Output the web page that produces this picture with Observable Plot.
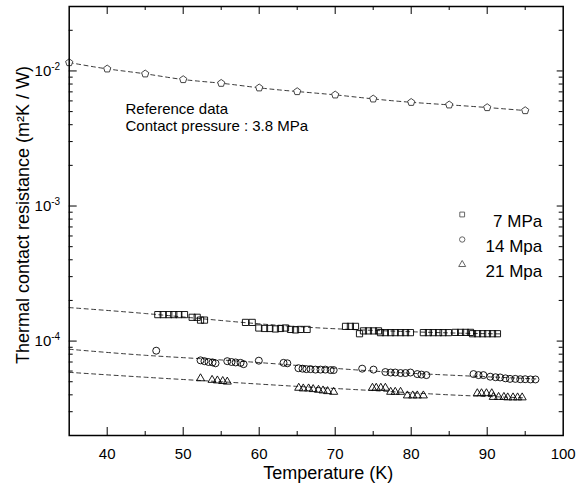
<!DOCTYPE html>
<html><head><meta charset="utf-8">
<script src="https://cdn.jsdelivr.net/npm/d3@7"></script>
<script src="https://cdn.jsdelivr.net/npm/@observablehq/plot@0.6"></script>
<style>body{margin:0;background:#fff} svg{display:block}</style>
</head><body><div id="chart"></div>
<script>
// Reference data (3.8 MPa)
const refT = [35,40,45,50,55,60,65,70,75,80,85,90,95];
const refR = [0.01154,0.01036,0.00952,0.00864,0.00811,0.00750,0.00704,0.00665,0.00621,0.00586,0.00561,0.00536,0.00509];

// 7 MPa
const t7 = [46.66,47.37,48.1,48.76,49.42,50.17,51.18,51.84,52.28,52.8,58.2,59.08,
  59.95,60.7,61.4,62.14,62.8,63.46,64.12,64.78,65.43,66.3,71.36,72.0,72.67,73.2,
  73.72,74.38,75.04,75.7,75.96,76.6,77.3,77.9,78.6,79.25,79.9,81.6,82.27,82.9,83.6,84.2,84.9,
  85.8,86.5,87.15,87.8,88.07,88.73,89.4,90.04,90.7,91.35];
const r7 = [1.57e-4,1.57e-4,1.57e-4,1.57e-4,1.57e-4,1.57e-4,1.50e-4,1.50e-4,1.43e-4,1.43e-4,1.375e-4,1.375e-4,
  1.25e-4,1.24e-4,1.24e-4,1.23e-4,1.24e-4,1.25e-4,1.22e-4,1.21e-4,1.22e-4,1.22e-4,1.285e-4,1.285e-4,1.285e-4,1.134e-4,
  1.19e-4,1.19e-4,1.19e-4,1.19e-4,1.155e-4,1.155e-4,1.155e-4,1.155e-4,1.155e-4,1.155e-4,1.155e-4,1.155e-4,1.155e-4,1.155e-4,1.155e-4,1.155e-4,1.155e-4,
  1.16e-4,1.16e-4,1.16e-4,1.16e-4,1.134e-4,1.134e-4,1.134e-4,1.134e-4,1.134e-4,1.134e-4];

// 14 MPa
const t14 = [46.45,52.28,52.8,53.33,53.86,54.25,55.8,56.36,56.9,57.55,57.95,59.95,63.2,63.7,
  65.16,65.7,66.2,66.75,67.4,68.07,68.7,69.4,69.8,73.55,75.04,76.6,77.3,77.9,78.6,79.25,79.9,
  80.8,81.35,82.0,88.2,88.86,89.5,90.4,91.1,91.7,92.4,93.0,93.7,94.35,95.0,95.7,96.35];
const r14 = [8.49e-5,7.2e-5,7.1e-5,7.0e-5,6.95e-5,6.85e-5,7.1e-5,7.0e-5,6.95e-5,6.9e-5,6.75e-5,7.16e-5,6.9e-5,6.85e-5,
  6.3e-5,6.25e-5,6.2e-5,6.2e-5,6.15e-5,6.15e-5,6.15e-5,6.1e-5,6.1e-5,6.25e-5,6.15e-5,5.9e-5,5.85e-5,5.85e-5,5.8e-5,5.8e-5,5.85e-5,
  5.7e-5,5.65e-5,5.6e-5,5.7e-5,5.6e-5,5.6e-5,5.45e-5,5.4e-5,5.38e-5,5.3e-5,5.25e-5,5.25e-5,5.22e-5,5.22e-5,5.2e-5,5.2e-5];

// 21 MPa
const t21 = [52.28,53.8,54.5,55.2,55.8,65.2,65.8,66.5,67.1,67.8,68.4,69.0,69.8,
  74.9,75.4,76.0,76.6,77.3,77.9,78.6,79.5,80.2,80.8,81.6,88.7,89.25,89.9,90.6,90.8,91.5,92.2,92.7,93.4,94.0,94.6];
const r21 = [5.29e-5,5.15e-5,5.1e-5,5.05e-5,5.0e-5,4.5e-5,4.45e-5,4.45e-5,4.4e-5,4.35e-5,4.3e-5,4.25e-5,4.2e-5,
  4.5e-5,4.5e-5,4.5e-5,4.5e-5,4.2e-5,4.2e-5,4.2e-5,3.95e-5,3.95e-5,3.95e-5,3.95e-5,4.1e-5,4.1e-5,4.1e-5,4.1e-5,3.85e-5,3.85e-5,3.85e-5,3.82e-5,3.82e-5,3.82e-5,3.82e-5];

// Fit curves (dashed)
const fitT7 = [35,45,55,65,75,85,92];
const fitR7 = [1.77e-4,1.6e-4,1.42e-4,1.28e-4,1.2e-4,1.15e-4,1.13e-4];
const fitT14 = [35,45,55,65,75,85,96.4];
const fitR14 = [8.7e-5,7.85e-5,7.25e-5,6.6e-5,6.0e-5,5.6e-5,5.25e-5];
const fitT21 = [35,45,55,65,75,85,95];
const fitR21 = [5.87e-5,5.4e-5,5.0e-5,4.62e-5,4.3e-5,4.0e-5,3.8e-5];

// Ticks
const xMajor = [40,50,60,70,80,90];
const xLabels = [40,50,60,70,80,90,100];
const xMinor = [45,55,65,75,85,95];
const yMajor = [1e-4,1e-3,1e-2];
const yMinor = [3e-5,4e-5,5e-5,6e-5,7e-5,8e-5,9e-5,2e-4,3e-4,4e-4,5e-4,6e-4,7e-4,8e-4,9e-4,
  2e-3,3e-3,4e-3,5e-3,6e-3,7e-3,8e-3,9e-3,2e-2];

// Legend
const legendLabels = ["7 MPa","14 Mpa","21 Mpa"];
const legendSymbols = ["square","circle","triangle"];

const zip = (a,b) => a.map((v,i)=>({x:v,y:b[i]}));

const pentagon = {
  draw(context, size) {
    const r = Math.sqrt(size / 2.378);
    for (let i = 0; i < 5; ++i) {
      const a = -Math.PI/2 + i * 2*Math.PI/5;
      const px = r*Math.cos(a), py = r*Math.sin(a);
      if (i === 0) context.moveTo(px, py); else context.lineTo(px, py);
    }
    context.closePath();
  }
};

const W = 584, H = 489, mT = 6, mR = 21.3, mB = 54, mL = 68.7;
const iW = W - mL - mR, iH = H - mT - mB;
const font = "'Liberation Sans', Arial, sans-serif";
const dash = "4,3.5";

const marks = [
  Plot.ruleX(xMajor, {x: d=>d, insetTop: iH-8, stroke:"black"}),
  Plot.ruleX(xMinor, {x: d=>d, insetTop: iH-4, stroke:"black"}),
  Plot.ruleX(xMajor, {x: d=>d, insetBottom: iH-8, stroke:"black"}),
  Plot.ruleX(xMinor, {x: d=>d, insetBottom: iH-4, stroke:"black"}),
  Plot.ruleY(yMajor, {y: d=>d, insetRight: iW-8, stroke:"black"}),
  Plot.ruleY(yMinor, {y: d=>d, insetRight: iW-4, stroke:"black"}),
  Plot.ruleY(yMajor, {y: d=>d, insetLeft: iW-6, stroke:"black"}),
  Plot.ruleY(yMinor, {y: d=>d, insetLeft: iW-4, stroke:"black"}),
  Plot.axisX(xLabels, {tickSize: 0, tickPadding: 13, fontSize: 15, tickFormat: d=>String(d), label: null}),
  Plot.axisY(yMajor, {tickSize: 0, tickPadding: 9, fontSize: 15, tickFormat: d=>"10^"+Math.round(Math.log10(d)), label: null}),
  Plot.line(zip(refT, refR), {x:"x", y:"y", stroke:"#222", strokeWidth:0.9, strokeDasharray: dash, curve:"natural"}),
  Plot.line(zip(fitT7, fitR7), {x:"x", y:"y", stroke:"#222", strokeWidth:0.9, strokeDasharray: dash, curve:"natural"}),
  Plot.line(zip(fitT14, fitR14), {x:"x", y:"y", stroke:"#222", strokeWidth:0.9, strokeDasharray: dash, curve:"natural"}),
  Plot.line(zip(fitT21, fitR21), {x:"x", y:"y", stroke:"#222", strokeWidth:0.9, strokeDasharray: dash, curve:"natural"}),
  Plot.dot(zip(refT, refR), {x:"x", y:"y", symbol: pentagon, r: 3.3, stroke:"#444", strokeWidth: 1, fill:"white"}),
  Plot.dot(zip(t7, r7), {x:"x", y:"y", symbol:"square", r: 3.5, stroke:"black", strokeWidth: 0.9, fill:"none"}),
  Plot.dot(zip(t14, r14), {x:"x", y:"y", symbol:"circle", r: 3.5, stroke:"black", strokeWidth: 0.9, fill:"none"}),
  Plot.dot(zip(t21, r21), {x:"x", y:"y", symbol:"triangle", r: 3, stroke:"black", strokeWidth: 0.9, fill:"none"}),
  Plot.text(["Reference data\nContact pressure : 3.8 MPa"], {frameAnchor:"top-left", textAnchor:"start", lineAnchor:"top", dx: 56.3, dy: 95.5, fontSize: 15, lineHeight: 1.12, fill:"black"}),
  Plot.text(["Temperature (K)"], {frameAnchor:"bottom", textAnchor:"middle", dx: 12, dy: 43, fontSize: 18, fill:"black"}),
  Plot.text(["Thermal contact resistance (m²K / W)"], {frameAnchor:"left", textAnchor:"middle", rotate:-90, dx:-46, dy:-6, fontSize: 18, fill:"black"}),
  Plot.frame({stroke:"black", strokeWidth: 1.5})
];
legendLabels.forEach((lab, i) => {
  marks.push(Plot.dot([lab], {frameAnchor:"top-left", dx: 393, dy: 208 + i*25, symbol: legendSymbols[i], r: i===2 ? 2.6 : 2.7, stroke:"#555", strokeWidth: 0.9, fill:"none"}));
  marks.push(Plot.text([lab], {frameAnchor:"top-left", dx: 473, dy: 208 + i*25, textAnchor:"end", fontSize: 17, fill:"black"}));
});

const svg = Plot.plot({
  width: W, height: H,
  marginTop: mT, marginRight: mR, marginBottom: mB, marginLeft: mL,
  style: {fontFamily: font, background: "white", color: "black", overflow: "visible"},
  x: {domain: [35, 100]},
  y: {type: "log", domain: [2e-5, 3e-2]},
  marks
});
document.getElementById("chart").appendChild(svg);

d3.select(svg).selectAll('g[aria-label="y-axis tick label"] text').each(function(){
  const s = this.textContent.split("^");
  const t = d3.select(this);
  t.text(s[0]);
  t.append("tspan").attr("dy", "-0.55em").attr("font-size", 10).text(s[1]);
});
</script>
</body></html>
